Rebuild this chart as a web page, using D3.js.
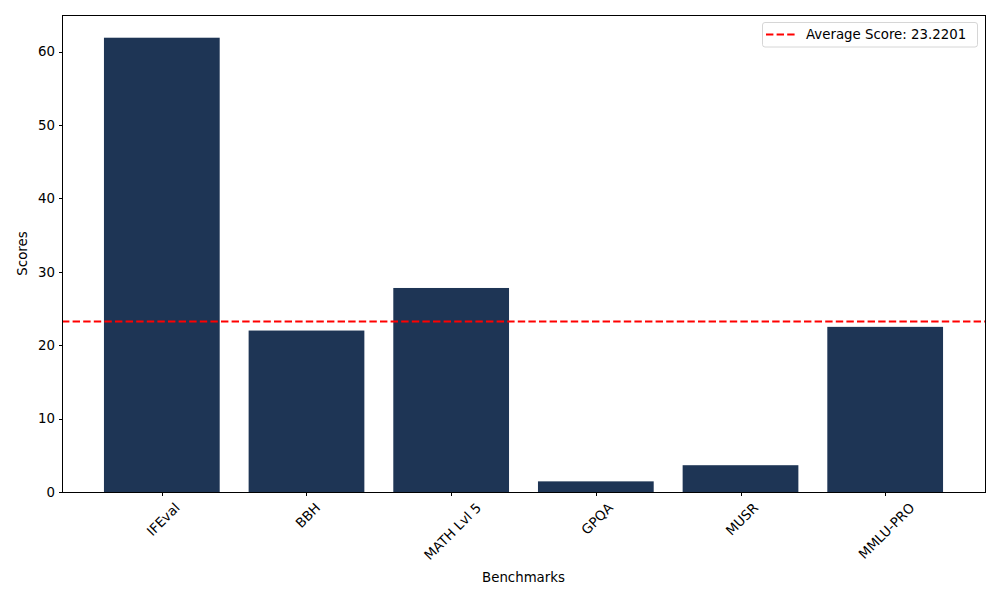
<!DOCTYPE html>
<html><head><meta charset="utf-8">
<script src="https://cdn.jsdelivr.net/npm/d3@7"></script>
<style>body{margin:0;background:#fff}svg{display:block}text{font-family:"DejaVu Sans",sans-serif}</style>
</head><body>
<svg id="c" width="1000" height="600"></svg>
<script>
const categories = ["IFEval","BBH","MATH Lvl 5","GPQA","MUSR","MMLU-PRO"];
const scores = [61.9, 22.0, 27.8, 1.45, 3.65, 22.5];
const averageScore = 23.2201;
const yTicks = [0,10,20,30,40,50,60];

const svg = d3.select("#c");
const L=62, R=985, T=15, B=492;
const barColor = "#1e3555";

const x = d3.scaleLinear().domain([-0.69, categories.length-1+0.69]).range([L,R]);
const y = d3.scaleLinear().domain([0, d3.max(scores)*1.05]).range([B,T]);
const bw = x(0.4)-x(-0.4);

svg.append("g").selectAll("rect").data(scores).join("rect")
  .attr("x",(d,i)=>x(i)-bw/2).attr("width",bw)
  .attr("y",d=>y(d)).attr("height",d=>y(0)-y(d))
  .attr("fill",barColor);

svg.append("line").attr("x1",L).attr("x2",R).attr("y1",y(averageScore)).attr("y2",y(averageScore))
  .attr("stroke","#ff0000").attr("stroke-width",2).attr("stroke-dasharray","7.4,3.2");

// y axis
const ya = svg.append("g").attr("transform",`translate(${L},0)`)
  .call(d3.axisLeft(y).tickValues(yTicks).tickSize(3.5).tickPadding(3.5).tickFormat(d3.format("d")));
ya.select(".domain").remove();
ya.selectAll("line").attr("stroke","#000").attr("stroke-width",1).attr("shape-rendering","crispEdges");
ya.selectAll("text").attr("font-size","13.33px").attr("fill","#000");

// x axis
const xa = svg.append("g").attr("transform",`translate(0,${B})`)
  .call(d3.axisBottom(x).tickValues(d3.range(categories.length)).tickSize(3.5).tickFormat(i=>categories[i]));
xa.select(".domain").remove();
xa.selectAll("line").attr("stroke","#000").attr("stroke-width",1).attr("shape-rendering","crispEdges");
xa.selectAll("text").attr("font-size","13.33px").attr("fill","#000")
  .attr("text-anchor","middle").attr("dy",null).attr("dominant-baseline","central")
  .each(function(i){
    const t=d3.select(this);
    const len=this.getComputedTextLength();
    const h=13.33*0.95;
    const off=9+(len+h)/(2*Math.SQRT2);
    t.attr("y",0).attr("transform",`translate(1,${off}) rotate(-45)`);
  });

// frame
svg.append("rect").attr("x",L).attr("y",T).attr("width",R-L).attr("height",B-T)
  .attr("fill","none").attr("stroke","#000").attr("stroke-width",1).attr("shape-rendering","crispEdges");

// axis labels
svg.append("text").attr("x",(L+R)/2).attr("y",582).attr("text-anchor","middle")
  .attr("font-size","13.33px").text("Benchmarks");
svg.append("text").attr("transform",`translate(27,${(T+B)/2}) rotate(-90)`).attr("text-anchor","middle")
  .attr("font-size","13.33px").text("Scores");

// legend
const lg = svg.append("g");
lg.append("rect").attr("x",762.5).attr("y",22.5).attr("width",215).attr("height",24.5).attr("rx",2.5)
  .attr("fill","#fff").attr("fill-opacity",0.8).attr("stroke","#cccccc").attr("stroke-width",0.8);
lg.append("line").attr("x1",766).attr("x2",795).attr("y1",34.5).attr("y2",34.5)
  .attr("stroke","#ff0000").attr("stroke-width",2).attr("stroke-dasharray","7.4,3.2");
lg.append("text").attr("x",806).attr("y",39).attr("font-size","13.33px").text("Average Score: " + averageScore.toFixed(4));
</script>
</body></html>
